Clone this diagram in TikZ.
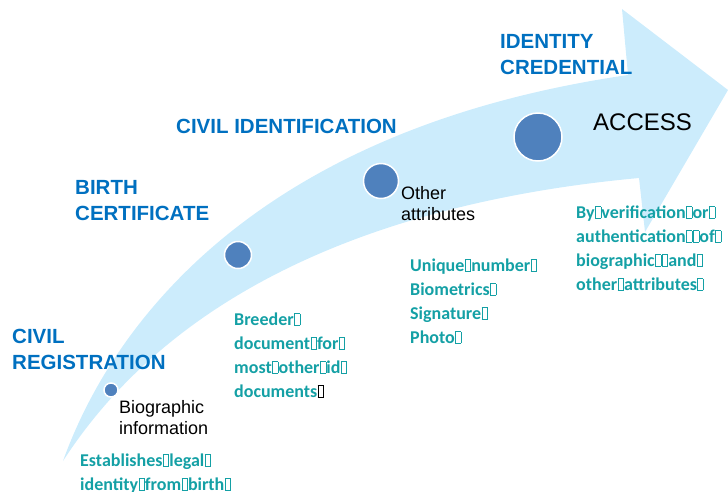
\documentclass[tikz,border=0pt]{standalone}
\usepackage{fontspec}
\setmainfont{Liberation Sans}
\newfontfamily\detailfont{Carlito}
\usepackage{xcolor}

\definecolor{bandblue}{RGB}{204,236,252}
\definecolor{dotblue}{RGB}{79,129,189}
\definecolor{headblue}{RGB}{0,112,192}
\definecolor{tealtext}{RGB}{20,160,165}

\newcommand{\tofu}{{\kern0.4pt\fboxsep=0pt\fboxrule=0.5pt\fbox{\rule{0pt}{0.62em}\hspace{0.28em}}\kern0.4pt}}

\tikzset{
  stage/.style={font=\bfseries\fontsize{20.5}{26}\selectfont, text=headblue, align=left, inner sep=0pt},
  note/.style={font=\fontsize{18}{21}\selectfont, align=left, inner sep=0pt},
  detail/.style={font=\detailfont\bfseries\fontsize{18}{24}\selectfont, text=tealtext, align=left, inner sep=0pt},
  dot/.style={circle, fill=dotblue, draw=white, line width=1.5pt, inner sep=0pt},
}

\begin{document}
\begin{tikzpicture}[x=1pt, y=-1pt]
\useasboundingbox (0,0) rectangle (728,491);

\fill[bandblue] (63,461) .. controls (110,330) and (250,130) .. (628,75)
  -- (622,9) -- (728,90) -- (645,232) -- (639,178)
  .. controls (400,200) and (180,280) .. cycle;

\node[dot, minimum size=14pt] (d1) at (111,390) {};
\node[dot, minimum size=27pt] (d2) at (238,255) {};
\node[dot, minimum size=35pt] (d3) at (381,181) {};
\node[dot, minimum size=48pt] (d4) at (538,137) {};

\node[stage, anchor=base west] (reg) at (12,369) {CIVIL\\REGISTRATION};
\node[stage, anchor=base west] (birth) at (75,220) {BIRTH\\CERTIFICATE};
\node[stage, anchor=base west] (ident) at (176,133) {CIVIL IDENTIFICATION};
\node[stage, anchor=base west] (cred) at (500,74) {IDENTITY\\CREDENTIAL};

\node[note, anchor=base west] (bio) at (119,434) {Biographic\\information};
\node[note, anchor=base west] (other) at (401,220) {Other\\attributes};
\node[note, font=\fontsize{24}{28}\selectfont, anchor=base west] (access) at (593,130) {ACCESS};

\node[detail, anchor=base west] (legal) at (80,490) {Establishes\tofu legal\tofu\\identity\tofu from\tofu birth\tofu};
\node[detail, anchor=base west] (breeder) at (234,397) {Breeder\tofu\\document\tofu for\tofu\\most\tofu other\tofu id\tofu\\documents{\color{black}\tofu}};
\node[detail, anchor=base west] (unique) at (410,343) {Unique\tofu number\tofu\\Biometrics\tofu\\Signature\tofu\\Photo\tofu};
\node[detail, anchor=base west] (verify) at (576,290) {By\tofu verification\tofu or\tofu\\authentication\tofu\tofu of\tofu\\biographic\tofu\tofu and\tofu\\other\tofu attributes\tofu};
\end{tikzpicture}
\end{document}
